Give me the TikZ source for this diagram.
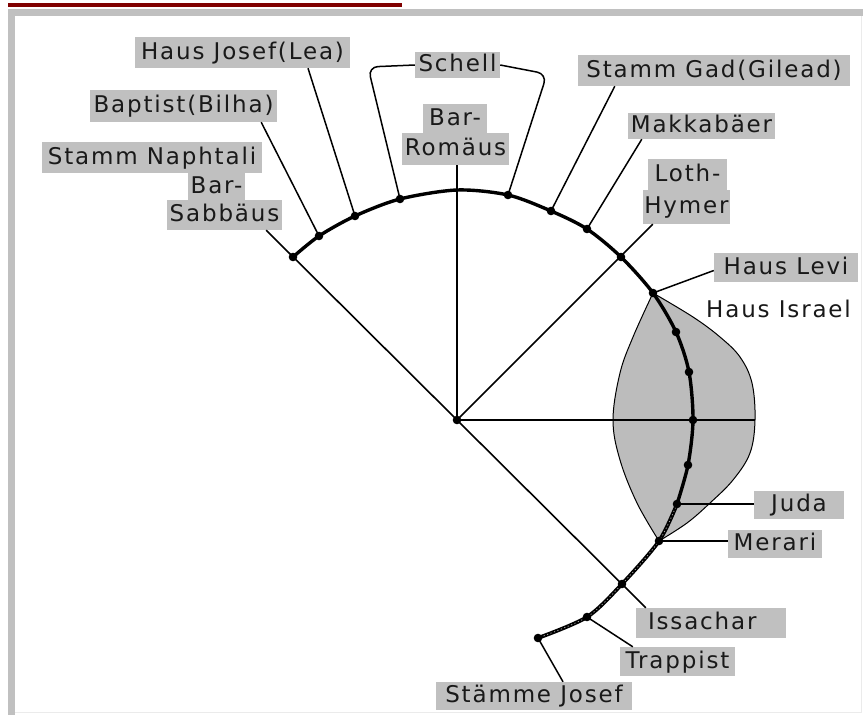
\documentclass[tikz,border=0pt]{standalone}
\usepackage{fontspec}
\setmainfont{DejaVu Sans}[LetterSpace=8]
\usetikzlibrary{calc}
\definecolor{boxgray}{RGB}{192,192,192}
\definecolor{lensgray}{RGB}{188,188,188}
\definecolor{darkred}{RGB}{128,0,0}
\definecolor{txt}{RGB}{25,25,25}
\definecolor{framegray}{RGB}{192,192,192}
\begin{document}
\begin{tikzpicture}[x=1pt,y=-1pt,
  lbl/.style={fill=boxgray, text=txt, inner xsep=0pt, inner ysep=0pt,
    font=\fontsize{23}{27}\selectfont, text height=16.8pt, text depth=3.5pt},
  plain/.style={text=txt, inner sep=0pt, font=\fontsize{23}{27}\selectfont},
  lead/.style={line width=1.5pt, draw=black},
  radial/.style={line width=1.6pt, draw=black},
  arcline/.style={line width=3.4pt, draw=black, line join=round},
  dotmark/.style={fill=black},
]
\useasboundingbox (0,0) rectangle (863,715);
\fill[white] (0,0) rectangle (863,715);
% frame
\fill[darkred] (8,3) rectangle (402,6.5);
\fill[framegray] (8,9) rectangle (863,16);
\fill[framegray] (8,9) rectangle (15,715);
\draw[black!8, line width=1pt] (861,16) -- (861,712) -- (15,712);

% points
\coordinate (c0) at (457,420);
\coordinate (p1) at (293,257);
\coordinate (p2) at (319,236);
\coordinate (p3) at (355,216);
\coordinate (p4) at (400,199);
\coordinate (ptop) at (457,190);
\coordinate (p5) at (508,195);
\coordinate (p6) at (551,211);
\coordinate (p7) at (587,229);
\coordinate (p8) at (621,257);
\coordinate (p9) at (653,293);
\coordinate (p10) at (676,332);
\coordinate (p11) at (689,372);
\coordinate (p12) at (693,420);
\coordinate (p13) at (688,465);
\coordinate (p14) at (677,504);
\coordinate (p15) at (659,541);
\coordinate (p16) at (622,584);
\coordinate (p17) at (587,617);
\coordinate (p18) at (538,638);
\coordinate (lensR) at (755,420);

% lens
\filldraw[fill=lensgray, draw=black, line width=1pt]
  plot[smooth, tension=0.6] coordinates {(653,293) (693,317) (720,337) (740,357) (752,383) (755,420) (750,453) (733,480) (710,503) (687,523) (659,541)}
  -- plot[smooth, tension=0.6] coordinates {(659,541) (637,503) (620,460) (613,420) (620,373) (633,337) (653,293)} -- cycle;

% labels
\node[lbl, minimum width=215pt, minimum height=31pt] (hjl) at (242.5,52.5) {Haus Josef(Lea)};
\node[lbl, minimum width=187pt, minimum height=32pt] (bap) at (183.5,106) {Baptist(Bilha)};
\node[lbl, minimum width=220pt, minimum height=31pt] (nap) at (152,157.5) {Stamm Naphtali};
\node[lbl, minimum width=57pt, minimum height=27pt] (bar1) at (216.5,186.5) {Bar-};
\node[lbl, minimum width=115pt, minimum height=30pt] (sab) at (224.5,215) {Sabbäus};
\node[lbl, minimum width=85pt, minimum height=26pt] (sch) at (457.5,65) {Schell};
\node[lbl, minimum width=64pt, minimum height=29pt] (bar2) at (455,118.5) {Bar-};
\node[lbl, minimum width=107pt, minimum height=32pt] (rom) at (455.5,149) {Romäus};
\node[lbl, minimum width=272pt, minimum height=31pt] (gad) at (714,70.5) {Stamm Gad(Gilead)};
\node[lbl, minimum width=147pt, minimum height=26pt] (mak) at (701.5,126) {Makkabäer};
\node[lbl, minimum width=79pt, minimum height=31pt] (loth) at (687.5,174.5) {Loth-};
\node[lbl, minimum width=87pt, minimum height=34pt] (hym) at (686.5,207) {Hymer};
\node[lbl, minimum width=144pt, minimum height=29pt] (levi) at (786,267.5) {Haus Levi};
\node[plain, anchor=base west] (isr) at (706,317) {Haus Israel};
\node[lbl, minimum width=90pt, minimum height=28pt] (juda) at (799,505) {Juda};
\node[lbl, minimum width=94pt, minimum height=28pt] (mer) at (775,544) {Merari};
\node[lbl, minimum width=150pt, minimum height=30pt, text width=126pt, align=left] (iss) at (711,623) {Issachar};
\node[lbl, minimum width=115pt, minimum height=29pt] (trap) at (677.5,661.5) {Trappist};
\node[lbl, minimum width=196pt, minimum height=28pt] (sj) at (534,696) {Stämme Josef};

% radial lines
\draw[radial] ([xshift=-16pt]sab.south east) -- (c0) -- ([xshift=10pt]iss.north west);
\draw[radial] (c0) -- (c0 |- rom.south);
\draw[radial] (c0) -- ([xshift=10pt]hym.south west);
\draw[radial] (c0) -- (lensR);

% leaders
\draw[lead] ([xshift=-16pt]bap.south east) -- (p2);
\draw[lead] ([xshift=65.5pt]hjl.south) -- (p3);
\draw[lead, rounded corners=10pt] (sch.west) -- (368,67) -- (p4);
\draw[lead, rounded corners=10pt] (sch.east) -- (547,74) -- (p5);
\draw[lead] ([xshift=37pt]gad.south west) -- (p6);
\draw[lead] ([xshift=14pt]mak.south west) -- (p7);
\draw[lead] ([yshift=-3pt]levi.west) -- (p9);
\draw[lead] (p14) -- (p14 -| juda.west);
\draw[lead] (p15) -- (p15 -| mer.west);
\draw[lead] (p17) -- ([xshift=13pt]trap.north west);
\draw[lead] (p18) -- ([xshift=29pt]sj.north);

% arc
\draw[arcline] plot[smooth, tension=0.5] coordinates {(p1) (p2) (p3) (p4) (ptop) (p5) (p6) (p7) (p8) (p9) (p10) (p11) (p12) (p13) (p14)};
\draw[arcline, line width=3.8pt] plot[smooth, tension=0.5] coordinates {(p14) (p15) (p16) (p17) (p18)};
\draw[white!70!black, line width=0.7pt, dash pattern=on 1.2pt off 2.5pt] plot[smooth, tension=0.5] coordinates {(p14) (p15) (p16) (p17) (p18)};

% dots
\foreach \p in {p1,p2,p3,p4,p5,p6,p7,p8,p9,p10,p11,p12,p13,p14,p15,p16,p17,p18,c0}
  \fill[dotmark] (\p) circle (4.3pt);
\end{tikzpicture}
\end{document}
